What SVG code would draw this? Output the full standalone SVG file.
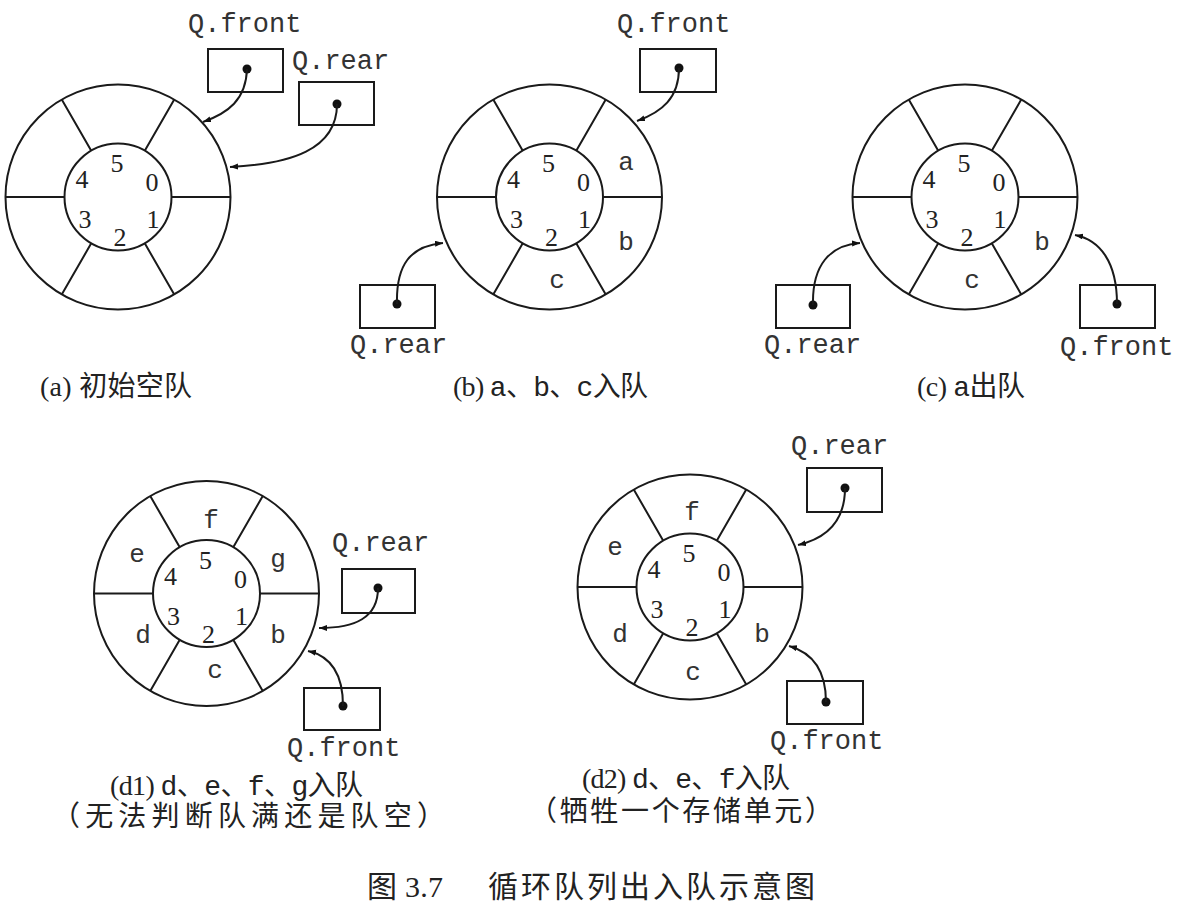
<svg xmlns="http://www.w3.org/2000/svg" xmlns:xlink="http://www.w3.org/1999/xlink" width="1177" height="910" viewBox="0 0 1177 910">
<style>
.ln{fill:none;stroke:#1a1a1a;stroke-width:2}
.box{fill:none;stroke:#1a1a1a;stroke-width:2}
.dot{fill:#111}
.dg{font-family:"Liberation Serif",serif;font-size:26px;fill:#222;text-anchor:middle}
.lb{font-family:"Liberation Mono",monospace;font-size:27px;fill:#333}
.cl{font-family:"Liberation Mono",monospace;font-size:26px;fill:#333;text-anchor:middle}
.cap{font-family:"Liberation Serif","Noto Sans CJK SC",serif;font-size:28px;fill:#222}
.mono{font-family:"Liberation Mono","Noto Sans CJK SC",monospace}
.arr{fill:none;stroke:#1a1a1a;stroke-width:2}
</style>
<defs>
<marker id="ah" markerWidth="10" markerHeight="8" refX="8" refY="3" orient="auto" markerUnits="userSpaceOnUse">
<path d="M0,0 L8,3 L0,6 z" fill="#111"/>
</marker>
<g id="ring">
<circle class="ln" r="112.5"/>
<circle class="ln" r="53.5"/>
<path class="ln" d="M53.5,0H112.5 M-53.5,0H-112.5 M26.75,-46.33L56.25,-97.43 M-26.75,-46.33L-56.25,-97.43 M26.75,46.33L56.25,97.43 M-26.75,46.33L-56.25,97.43"/>
</g>
<g id="digits">
<text class="dg" x="-1" y="-25">5</text>
<text class="dg" x="34" y="-6">0</text>
<text class="dg" x="-36" y="-9">4</text>
<text class="dg" x="-33" y="31">3</text>
<text class="dg" x="2" y="49">2</text>
<text class="dg" x="35" y="31">1</text>
</g>
</defs>
<rect width="1177" height="910" fill="#fff"/>

<g id="queue-a">
<use xlink:href="#ring" href="#ring" x="118" y="197"/>
<use xlink:href="#digits" href="#digits" x="118" y="197"/>
</g>
<g id="ptr-a-front">
<rect class="box" x="208" y="49" width="75" height="43"/>
<circle class="dot" cx="247" cy="69" r="4.5"/>
<text class="lb" x="188" y="32">Q.front</text>
</g>
<g id="ptr-a-rear">
<rect class="box" x="299" y="82" width="75" height="43"/>
<circle class="dot" cx="337" cy="104" r="4.5"/>
<text class="lb" x="292" y="69">Q.rear</text>
</g>

<g id="queue-b">
<use xlink:href="#ring" href="#ring" x="549.5" y="197"/>
<use xlink:href="#digits" href="#digits" x="549.5" y="197"/>
<text class="cl" x="626" y="170">a</text>
<text class="cl" x="626" y="250">b</text>
<text class="cl" x="557" y="288">c</text>
</g>
<g id="ptr-b-front">
<rect class="box" x="640" y="49" width="76" height="43"/>
<circle class="dot" cx="679" cy="68" r="4.5"/>
<text class="lb" x="617" y="32">Q.front</text>
</g>
<g id="ptr-b-rear">
<rect class="box" x="360" y="285" width="75" height="43"/>
<circle class="dot" cx="397" cy="304" r="4.5"/>
<text class="lb" x="350" y="353">Q.rear</text>
</g>

<g id="queue-c">
<use xlink:href="#ring" href="#ring" x="965" y="197"/>
<use xlink:href="#digits" href="#digits" x="965" y="197"/>
<text class="cl" x="1042" y="250">b</text>
<text class="cl" x="972" y="288">c</text>
</g>
<g id="ptr-c-rear">
<rect class="box" x="776" y="285" width="74" height="43"/>
<circle class="dot" cx="813" cy="305" r="4.5"/>
<text class="lb" x="764" y="353">Q.rear</text>
</g>
<g id="ptr-c-front">
<rect class="box" x="1080" y="285" width="75" height="43"/>
<circle class="dot" cx="1117" cy="304" r="4.5"/>
<text class="lb" x="1060" y="355">Q.front</text>
</g>

<g id="queue-d1">
<use xlink:href="#ring" href="#ring" x="206.5" y="593.5"/>
<use xlink:href="#digits" href="#digits" x="206.5" y="593.5"/>
<text class="cl" x="211" y="528">f</text>
<text class="cl" x="137" y="562">e</text>
<text class="cl" x="278" y="567">g</text>
<text class="cl" x="143" y="643">d</text>
<text class="cl" x="278" y="643">b</text>
<text class="cl" x="215" y="678">c</text>
</g>
<g id="ptr-d1-rear">
<rect class="box" x="342" y="569" width="73" height="44"/>
<circle class="dot" cx="378" cy="588" r="4.5"/>
<text class="lb" x="332" y="551">Q.rear</text>
</g>
<g id="ptr-d1-front">
<rect class="box" x="304" y="688" width="76" height="42"/>
<circle class="dot" cx="343" cy="706" r="4.5"/>
<text class="lb" x="287" y="756">Q.front</text>
</g>

<g id="queue-d2">
<use xlink:href="#ring" href="#ring" x="690" y="587"/>
<use xlink:href="#digits" href="#digits" x="690" y="587"/>
<text class="cl" x="692" y="520">f</text>
<text class="cl" x="615" y="555">e</text>
<text class="cl" x="620" y="642">d</text>
<text class="cl" x="762" y="642">b</text>
<text class="cl" x="693" y="680">c</text>
</g>
<g id="ptr-d2-rear">
<rect class="box" x="807" y="468" width="75" height="44"/>
<circle class="dot" cx="845" cy="488" r="4.5"/>
<text class="lb" x="791" y="454">Q.rear</text>
</g>
<g id="ptr-d2-front">
<rect class="box" x="787" y="681" width="76" height="43"/>
<circle class="dot" cx="826" cy="702" r="4.5"/>
<text class="lb" x="770" y="749">Q.front</text>
</g>

<g id="connectors">
<path class="arr" marker-end="url(#ah)" d="M247,69 C246,100 228,113 203,122"/>
<path class="arr" marker-end="url(#ah)" d="M337,104 C337,150 290,164 230,167"/>
<path class="arr" marker-end="url(#ah)" d="M679,68 C679,98 662,112 637,121"/>
<path class="arr" marker-end="url(#ah)" d="M397,304 C396,265 410,246 443,243"/>
<path class="arr" marker-end="url(#ah)" d="M813,305 C812,265 830,245 860,243"/>
<path class="arr" marker-end="url(#ah)" d="M1117,304 C1117,262 1100,240 1075,235"/>
<path class="arr" marker-end="url(#ah)" d="M378,588 C378,618 355,628 319,628"/>
<path class="arr" marker-end="url(#ah)" d="M343,706 C343,672 330,656 308,651"/>
<path class="arr" marker-end="url(#ah)" d="M845,488 C845,520 828,538 798,545"/>
<path class="arr" marker-end="url(#ah)" d="M826,702 C826,668 810,652 789,646"/>
</g>

<g id="captions">
<text class="cap" x="40" y="396" textLength="152" lengthAdjust="spacing">(a) 初始空队</text>
<text class="cap" x="453" y="396" textLength="195" lengthAdjust="spacing">(b) <tspan class="mono">a、b、c</tspan>入队</text>
<text class="cap" x="917" y="396" textLength="108" lengthAdjust="spacing">(c) <tspan class="mono">a</tspan>出队</text>
<text class="cap" x="110" y="795" textLength="253" lengthAdjust="spacing">(d1) <tspan class="mono">d、e、f、g</tspan>入队</text>
<text class="cap" x="52" y="826" textLength="393" lengthAdjust="spacing">（无法判断队满还是队空）</text>
<text class="cap" x="582" y="788" textLength="208" lengthAdjust="spacing">(d2) <tspan class="mono">d、e、f</tspan>入队</text>
<text class="cap" x="529" y="821" textLength="304" lengthAdjust="spacing">（牺牲一个存储单元）</text>
<text class="cap" x="367" y="897" style="font-size:30px" textLength="76" lengthAdjust="spacing">图 3.7</text>
<text class="cap" x="488" y="897" style="font-size:30px" textLength="327" lengthAdjust="spacing">循环队列出入队示意图</text>
</g>
</svg>
